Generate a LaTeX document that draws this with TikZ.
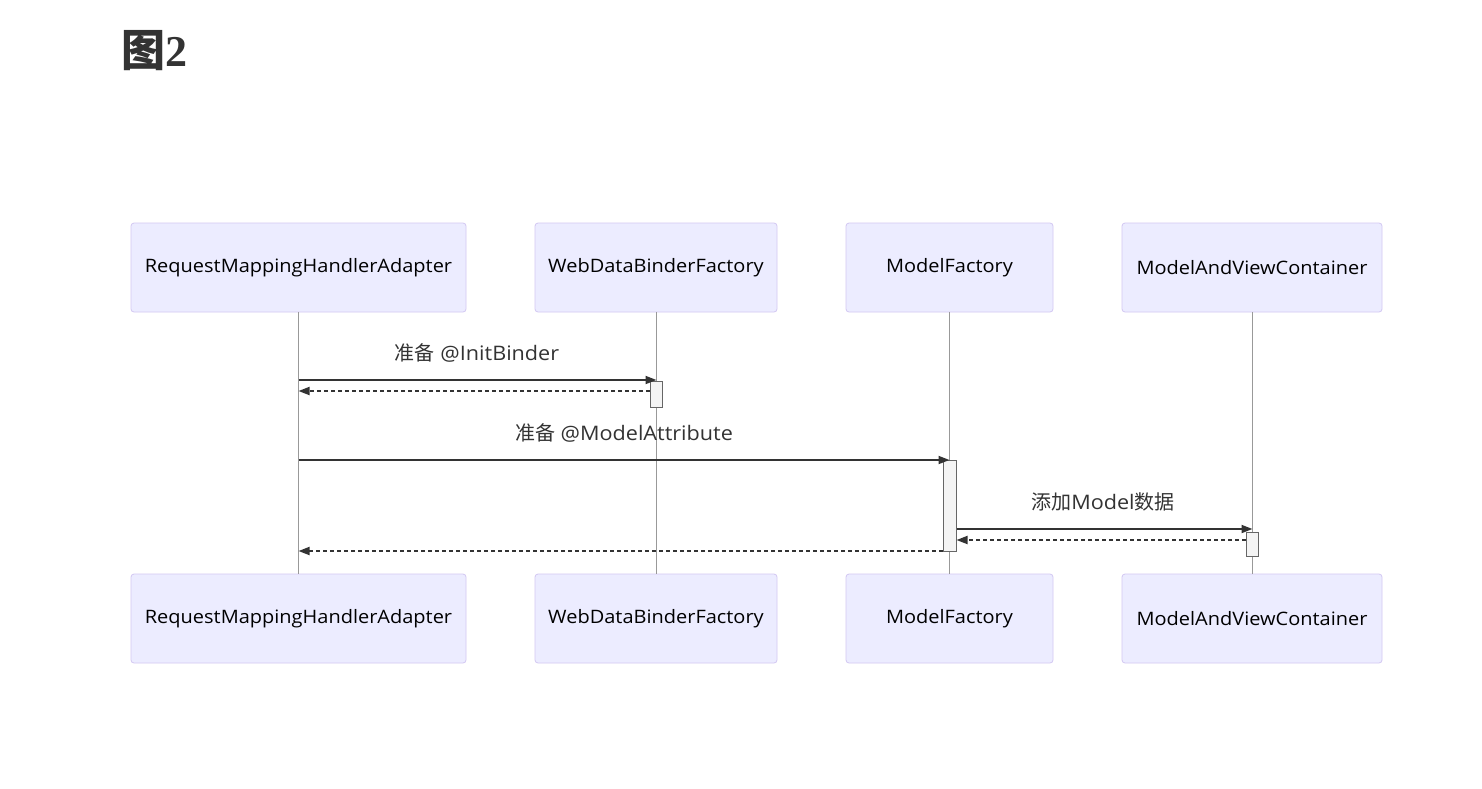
\documentclass[tikz,border=0pt]{standalone}
\usepackage{fontspec}
\setmainfont[FakeStretch=1.08]{Open Sans}
\newfontfamily\cjk{Noto Sans CJK SC}
\newfontfamily\titleserif{Liberation Serif}
\usetikzlibrary{arrows.meta}
\definecolor{actfill}{HTML}{ECECFF}
\definecolor{actdraw}{HTML}{D3C8F2}
\definecolor{txt}{HTML}{333333}
\definecolor{life}{HTML}{999999}
\definecolor{actbox}{HTML}{F4F4F4}
\definecolor{actline}{HTML}{666666}
\tikzset{
  actor/.style={draw=actdraw, fill=actfill, rounded corners=3pt, minimum height=89pt, inner sep=0pt, font=\fontsize{18.5}{21}\selectfont, text=black, line width=0.8pt},
  lifeline/.style={draw=life, line width=0.6pt},
  activ/.style={draw=actline, fill=actbox, minimum width=12pt, inner sep=0pt, line width=1pt},
  msg/.style={draw=txt, line width=1.8pt, -{Triangle[length=11pt,width=8pt]}, shorten >=-7pt},
  ret/.style={draw=txt, line width=1.8pt, dash pattern=on 4pt off 3pt, -{Triangle[length=11pt,width=8pt]}},
  lbl/.style={text=txt, font=\fontsize{20}{23}\selectfont, inner sep=0pt}
}
\begin{document}
\begin{tikzpicture}[x=1pt,y=-1pt]
\useasboundingbox (0,0) rectangle (1482,788);
\fill[white] (0,0) rectangle (1482,788);
\node[anchor=west, text=txt, inner sep=0pt] (title) at (121,51) {\fontsize{44}{48}\selectfont{\cjk\bfseries 图}{\titleserif\bfseries 2}};
% top actors
\node[actor, minimum width=335pt] (a1) at (298.5,267.5) {RequestMappingHandlerAdapter};
\node[actor, minimum width=242pt] (a2) at (656,267.5) {WebDataBinderFactory};
\node[actor, minimum width=207pt] (a3) at (949.5,267.5) {ModelFactory};
\node[actor, minimum width=260pt] (a4) at (1252,267.5) {ModelAndViewContainer};
% bottom actors
\node[actor, minimum width=335pt] (b1) at (298.5,618.5) {RequestMappingHandlerAdapter};
\node[actor, minimum width=242pt] (b2) at (656,618.5) {WebDataBinderFactory};
\node[actor, minimum width=207pt] (b3) at (949.5,618.5) {ModelFactory};
\node[actor, minimum width=260pt] (b4) at (1252,618.5) {ModelAndViewContainer};
% lifelines
\draw[lifeline] (a1.south) -- (b1.north);
\draw[lifeline] (a2.south) -- (b2.north);
\draw[lifeline] (a3.south) -- (b3.north);
\draw[lifeline] (a4.south) -- (b4.north);
% activations
\node[activ, minimum height=26pt] (v1) at (656,394) {};
\node[activ, minimum height=91pt, minimum width=13pt] (v2) at (949.5,505.5) {};
\node[activ, minimum height=24pt] (v3) at (1252,544) {};
% message points
\coordinate (p1) at (298.5,380);
\coordinate (p2) at (298.5,391);
\coordinate (p3) at (298.5,460);
\coordinate (p4) at (956,529);
\coordinate (p5) at (956,540);
\coordinate (p6) at (298.5,551);
% messages
\draw[msg] (p1) -- (v1.west |- p1);
\node[lbl] (l1) at (477,353) {{\cjk 准备} @InitBinder};
\draw[ret] (v1.west |- p2) -- (p2);
\draw[msg] (p3) -- (v2.west |- p3);
\node[lbl] (l2) at (624,433) {{\cjk 准备} @ModelAttribute};
\draw[msg] (v2.east |- p4) -- (v3.west |- p4);
\node[lbl] (l3) at (1103,502) {{\cjk 添加}Model{\cjk 数据}};
\draw[ret] (v3.west |- p5) -- (v2.east |- p5);
\draw[ret] (v2.west |- p6) -- (p6);
\end{tikzpicture}
\end{document}
